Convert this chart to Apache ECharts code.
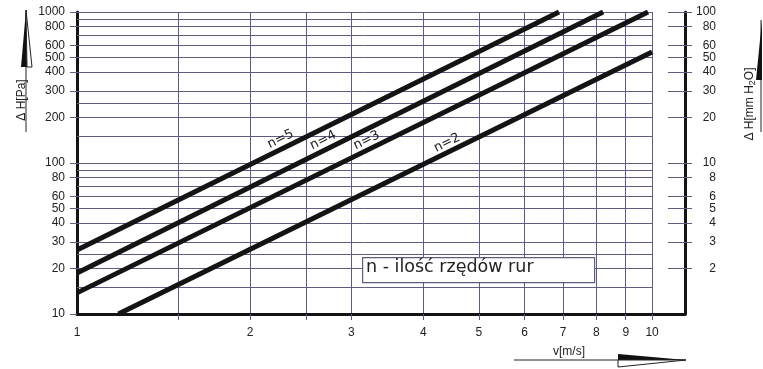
<!DOCTYPE html>
<html>
<head>
<meta charset="utf-8">
<script src="https://cdn.jsdelivr.net/npm/echarts@6/dist/echarts.min.js"></script>
<style>html,body{margin:0;padding:0;background:#fff}#c{width:763px;height:369px}</style>
</head>
<body>
<div id="c"></div>
<script>
// ---- data ----
const seriesNames = ['n=5', 'n=4', 'n=3', 'n=2'];
const n5 = [[1, 26.5], [6.89, 1000]];
const n4 = [[1, 18.7], [8.22, 1000]];
const n3 = [[1, 13.8], [9.84, 1000]];
const n2 = [[1.18, 10], [10, 543]];
const labelPos = [[2.26, 144], [2.68, 141], [3.19, 141], [4.40, 136]];
const xTickValues = [1.5, 2, 2.5, 3, 4, 5, 6, 7, 8, 9, 10];
const xLabelValues = [1, 2, 3, 4, 5, 6, 7, 8, 9, 10];
const yLabelValues = [10, 20, 30, 40, 50, 60, 80, 100, 200, 300, 400, 500, 600, 800, 1000];
const yGridValues = [15, 20, 25, 30, 40, 50, 60, 70, 80, 90, 100, 150, 200, 250, 300, 400, 500, 600, 700, 800, 900, 1000];
const y2LabelValues = [2, 3, 4, 5, 6, 8, 10, 20, 30, 40, 50, 60, 80, 100];
const legendText = 'n - ilość rzędów rur';

const GRID = '#5d5d82';
const FONT = '"Liberation Sans", Arial, sans-serif';
const fmt = v => String(+(+v).toFixed(3));

const lines = [n5, n4, n3, n2].map((d, i) => ({
  type: 'line', name: seriesNames[i], data: d, symbol: 'none', clip: false, z: 5,
  lineStyle: { color: '#141414', width: 5, cap: 'butt' },
  markPoint: {
    symbol: 'circle', symbolSize: 0, silent: true,
    label: { show: true, position: 'inside', formatter: seriesNames[i], rotate: 26,
      color: '#222', fontSize: 13, fontFamily: '"DejaVu Sans", sans-serif' },
    data: [{ coord: labelPos[i] }]
  }
}));

const gridSeries = {
  type: 'line', data: [], z: 1, silent: true,
  markLine: {
    symbol: 'none', silent: true, animation: false,
    label: { show: false },
    lineStyle: { color: GRID, width: 1, type: 'solid' },
    data: yGridValues.map(v => [{ coord: [1, v] }, { coord: [10, v] }])
  }
};

const chart = echarts.init(document.getElementById('c'), null, { renderer: 'canvas' });
chart.setOption({
  animation: false,
  backgroundColor: '#fff',
  grid: { left: 77, right: 78, top: 12, bottom: 55, containLabel: false },
  xAxis: {
    type: 'log', logBase: 10, min: 1, max: 11.41,
    axisLine: { onZero: false, lineStyle: { color: '#141414', width: 3 } },
    axisTick: { show: true, length: 6, customValues: xTickValues, lineStyle: { color: GRID, width: 1 } },
    axisLabel: { customValues: xLabelValues, margin: 13, color: '#222', fontSize: 12, fontFamily: FONT, formatter: fmt },
    splitLine: { show: true, lineStyle: { color: GRID, width: 1 } },
    minorTick: { show: false }
  },
  yAxis: [
    {
      type: 'log', logBase: 10, min: 10, max: 1000, position: 'left',
      axisLine: { show: true, onZero: false, lineStyle: { color: '#141414', width: 3 } },
      axisTick: { show: true, length: 7, customValues: yLabelValues, lineStyle: { color: GRID, width: 1 } },
      axisLabel: { customValues: yLabelValues, margin: 12, color: '#222', fontSize: 12, fontFamily: FONT, formatter: fmt },
      splitLine: { show: false }
    },
    {
      type: 'log', logBase: 10, min: 1, max: 100, position: 'right',
      axisLine: { show: true, onZero: false, lineStyle: { color: '#141414', width: 3 } },
      axisTick: { show: true, length: 7, customValues: y2LabelValues, lineStyle: { color: GRID, width: 1 } },
      axisLabel: { customValues: y2LabelValues, margin: 31, align: 'right', color: '#222', fontSize: 12, fontFamily: FONT, formatter: fmt },
      splitLine: { show: false }
    },
    {
      type: 'log', logBase: 10, min: 1, max: 100, position: 'right',
      axisLine: { show: false },
      axisTick: { show: true, inside: true, length: 17, customValues: y2LabelValues, lineStyle: { color: GRID, width: 1 } },
      axisLabel: { show: false },
      splitLine: { show: false }
    }
  ],
  series: [gridSeries].concat(lines),
  graphic: [
    // legend box
    { type: 'rect', left: 362, top: 257, z: 10, shape: { width: 232, height: 25 },
      style: { fill: '#fff', stroke: GRID, lineWidth: 1.2 } },
    { type: 'text', left: 366, top: 258, z: 11,
      style: { text: legendText, fill: '#222', font: '17.5px "DejaVu Sans", sans-serif' } },
    // left title + arrow
    { type: 'text', x: 22, y: 100, rotation: Math.PI / 2, z: 10,
      style: { text: 'Δ H[Pa]', fill: '#222', font: '12px ' + FONT, align: 'center', verticalAlign: 'middle' } },
    { type: 'line', z: 10, shape: { x1: 26, y1: 10, x2: 26, y2: 132 }, style: { stroke: '#222', lineWidth: 1 } },
    { type: 'polygon', z: 10, shape: { points: [[26, 10], [21, 67], [27, 67]] }, style: { fill: '#111' } },
    { type: 'polygon', z: 10, shape: { points: [[26, 10], [27, 67], [32, 67]] }, style: { fill: '#fff', stroke: '#222', lineWidth: 1 } },
    // right title + arrow
    { type: 'text', x: 750, y: 104, rotation: Math.PI / 2, z: 10,
      style: { text: 'Δ H[mm H{s|2}O]', fill: '#222', font: '12px ' + FONT, align: 'center', verticalAlign: 'middle',
        rich: { s: { fontSize: 9, verticalAlign: 'bottom', padding: [6, 0, 0, 0], fill: '#222', fontFamily: FONT } } } },
    { type: 'line', z: 10, shape: { x1: 761, y1: 20, x2: 761, y2: 132 }, style: { stroke: '#222', lineWidth: 1 } },
    { type: 'polygon', z: 10, shape: { points: [[762, 20], [756, 80], [762, 80]] }, style: { fill: '#111' } },
    // x title + arrow
    { type: 'text', x: 569, y: 352, z: 10,
      style: { text: 'v[m/s]', fill: '#222', font: '12px ' + FONT, align: 'center', verticalAlign: 'middle' } },
    { type: 'line', z: 10, shape: { x1: 514, y1: 360, x2: 686, y2: 360 }, style: { stroke: '#222', lineWidth: 1 } },
    { type: 'polygon', z: 10, shape: { points: [[618, 354], [618, 360], [686, 360]] }, style: { fill: '#111' } },
    { type: 'polygon', z: 10, shape: { points: [[618, 360], [618, 367], [686, 360]] }, style: { fill: '#fff', stroke: '#222', lineWidth: 1 } }
  ]
});
</script>
</body>
</html>
